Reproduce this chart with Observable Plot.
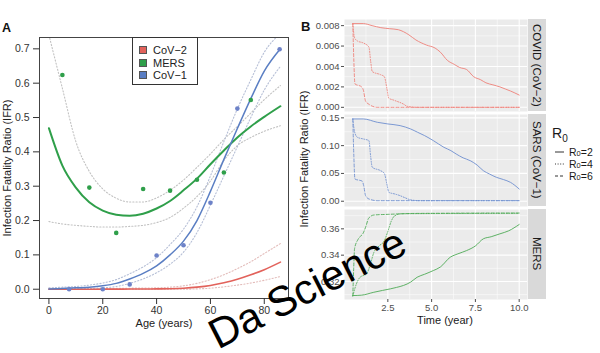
<!DOCTYPE html>
<html><head><meta charset="utf-8">
<script src="https://cdn.jsdelivr.net/npm/d3@7"></script>
<script src="https://cdn.jsdelivr.net/npm/@observablehq/plot@0.6"></script>
<style>
html,body{margin:0;padding:0;background:#fff;}
#root{position:relative;width:600px;height:353px;overflow:hidden;font-family:"Liberation Sans",Arial,Helvetica,sans-serif;}
.strip{position:absolute;background:#d9d9d9;color:#1a1a1a;font-size:11.5px;writing-mode:vertical-rl;display:flex;align-items:center;justify-content:center;white-space:nowrap;}
</style></head><body><div id="root"></div>
<script>
// ---------------- Panel A data ----------------
const seriesNames = ["CoV−2", "MERS", "CoV−1"];
const seriesColors = ["#e2625b", "#2f9f4a", "#5a7ec3"];
const ciColors = ["#e3bcba", "#c2c2c2", "#b6bfd6"];
const ageTicks = [0, 20, 40, 60, 80];
const ifrTicksA = [0, 0.1, 0.2, 0.3, 0.4, 0.5, 0.6, 0.7];
const ageGrid = [0, 5, 10, 15, 20, 25, 30, 35, 40, 45, 50, 55, 60, 65, 70, 75, 80, 86];
const fitCoV2  = [0, 0, 0, 0, 0.0002, 0.0003, 0.0005, 0.0007, 0.001, 0.0015, 0.003, 0.006, 0.011, 0.019, 0.029, 0.042, 0.057, 0.079];
const lowCoV2  = [0, 0, 0, 0, 0, 0, 0, 0, 0, 0, 0, 0.001, 0.003, 0.007, 0.012, 0.018, 0.026, 0.037];
const highCoV2 = [0.001, 0.001, 0.0015, 0.002, 0.002, 0.0025, 0.003, 0.0035, 0.004, 0.006, 0.010, 0.017, 0.028, 0.042, 0.060, 0.080, 0.104, 0.133];
const fitMERS  = [0.469, 0.36, 0.296, 0.253, 0.229, 0.217, 0.214, 0.220, 0.235, 0.257, 0.288, 0.322, 0.364, 0.404, 0.442, 0.474, 0.502, 0.533];
const lowMERS  = [0.197, 0.19, 0.186, 0.183, 0.181, 0.181, 0.183, 0.186, 0.194, 0.209, 0.236, 0.27, 0.315, 0.375, 0.418, 0.442, 0.46, 0.476];
const highMERS = [0.74, 0.585, 0.43, 0.343, 0.292, 0.265, 0.254, 0.254, 0.266, 0.288, 0.318, 0.355, 0.394, 0.436, 0.474, 0.513, 0.552, 0.593];
const fitCoV1  = [0.001, 0.002, 0.004, 0.006, 0.010, 0.017, 0.030, 0.046, 0.068, 0.10, 0.14, 0.20, 0.285, 0.378, 0.468, 0.555, 0.635, 0.70];
const lowCoV1  = [0, 0, 0.001, 0.002, 0.004, 0.008, 0.017, 0.03, 0.048, 0.073, 0.108, 0.165, 0.245, 0.33, 0.415, 0.5, 0.58, 0.649];
const highCoV1 = [0.004, 0.006, 0.008, 0.012, 0.018, 0.028, 0.045, 0.065, 0.092, 0.13, 0.175, 0.24, 0.33, 0.43, 0.525, 0.61, 0.69, 0.745];
const ageMERS = [5, 15, 25, 35, 45, 55, 65, 75];
const ifrMERS = [0.624, 0.296, 0.164, 0.292, 0.287, 0.319, 0.340, 0.551];
const ageCoV1 = [7.5, 20, 30, 40, 50, 60, 70, 85.7];
const ifrCoV1 = [0.0, 0.0, 0.014, 0.098, 0.128, 0.252, 0.526, 0.699];

// ---------------- Panel B data ----------------
const facetLabels = ["COVID (CoV−2)", "SARS (CoV−1)", "MERS"];
const facetColors = ["#ee8078", "#6e8ecf", "#4eaa56"];
const r0Labels = ["2", "4", "6"];
const timeTicks = [2.5, 5.0, 7.5, 10.0];
const timeMinor = [1.25, 3.75, 6.25, 8.75];
// COVID (CoV-2)
const tCovidR2 = [0.5, 1.1, 1.6, 2.1, 2.6, 3.1, 3.4, 3.7, 4.1, 4.7, 5.2, 5.5, 5.9, 6.3, 6.6, 7.0, 7.4, 7.8, 8.1, 8.5, 8.9, 9.2, 9.5, 10.0];
const vCovidR2 = [0.0082, 0.0082, 0.0080, 0.0078, 0.0077, 0.0076, 0.0074, 0.0071, 0.0066, 0.0061, 0.0058, 0.0054, 0.0046, 0.0042, 0.0039, 0.0037, 0.0030, 0.0027, 0.0024, 0.0022, 0.0020, 0.0018, 0.0016, 0.0012];
const tCovidR4 = [0.5, 0.6, 0.76, 1.1, 1.42, 1.52, 1.61, 2.08, 2.3, 2.45, 2.55, 2.84, 3.41, 3.6, 4.2, 10.0];
const vCovidR4 = [0.0082, 0.0068, 0.0065, 0.0063, 0.0059, 0.0045, 0.0035, 0.0032, 0.0030, 0.0018, 0.0009, 0.0007, 0.0003, 0.0001, 0.0, 0.0];
const tCovidR6 = [0.5, 0.56, 0.62, 1.0, 1.1, 1.23, 1.42, 1.9, 10.0];
const vCovidR6 = [0.0082, 0.0045, 0.0023, 0.0020, 0.0017, 0.0006, 0.0003, 0.0, 0.0];
// SARS (CoV-1)
const tSarsR2 = [0.5, 1.1, 1.9, 2.5, 3.2, 3.8, 4.2, 4.6, 5.1, 5.7, 6.1, 6.4, 6.8, 7.2, 7.6, 7.95, 8.3, 8.7, 9.1, 9.5, 10.0];
const vSarsR2 = [0.148, 0.148, 0.142, 0.139, 0.136, 0.130, 0.124, 0.118, 0.109, 0.097, 0.091, 0.085, 0.078, 0.073, 0.065, 0.055, 0.049, 0.043, 0.039, 0.034, 0.022];
const tSarsR4 = [0.5, 0.6, 0.76, 1.1, 1.42, 1.52, 1.61, 2.08, 2.3, 2.45, 2.56, 2.9, 3.2, 3.5, 3.8, 4.3, 10.0];
const vSarsR4 = [0.148, 0.125, 0.115, 0.112, 0.109, 0.08, 0.061, 0.055, 0.050, 0.03, 0.016, 0.013, 0.010, 0.006, 0.0025, 0.001, 0.001];
const tSarsR6 = [0.5, 0.56, 0.62, 1.04, 1.12, 1.23, 1.42, 1.9, 10.0];
const vSarsR6 = [0.148, 0.08, 0.040, 0.036, 0.028, 0.010, 0.004, 0.001, 0.001];
// MERS
const tMersR2 = [0.5, 1.0, 1.7, 2.2, 2.65, 3.0, 3.4, 3.8, 4.17, 4.6, 5.1, 5.5, 6.06, 6.5, 7.0, 7.5, 7.95, 8.4, 8.9, 9.4, 10.0];
const vMersR2 = [0.3093, 0.3096, 0.3118, 0.3132, 0.3144, 0.3155, 0.317, 0.3195, 0.3232, 0.3255, 0.3283, 0.331, 0.3384, 0.341, 0.3435, 0.347, 0.3524, 0.354, 0.3562, 0.3585, 0.3633];
const tMersR4 = [0.5, 0.7, 0.9, 1.3, 1.5, 1.7, 2.0, 2.3, 2.5, 2.7, 2.9, 3.3, 10.0];
const vMersR4 = [0.309, 0.318, 0.323, 0.326, 0.333, 0.342, 0.347, 0.351, 0.358, 0.366, 0.370, 0.3715, 0.3718];
const tMersR6 = [0.5, 0.55, 0.6, 0.8, 1.1, 1.25, 1.4, 1.7, 2.5, 4.0, 10.0];
const vMersR6 = [0.309, 0.33, 0.345, 0.352, 0.357, 0.362, 0.368, 0.3705, 0.371, 0.3717, 0.372];
const ticksCovid = [0, 0.002, 0.004, 0.006, 0.008];
const ticksSars = [0, 0.05, 0.10, 0.15];
const ticksMers = [0.32, 0.34, 0.36];

// ---------------- drawing ----------------
const root = document.getElementById("root");
const FONT = '"Liberation Sans", Arial, Helvetica, sans-serif';
function place(el, left, top) { el.style.position = "absolute"; el.style.left = left + "px"; el.style.top = top + "px"; root.appendChild(el); return el; }
const rowsA = ys => ageGrid.map((a, i) => ({age: a, ifr: ys[i]}));
const pts = (xs, ys) => xs.map((a, i) => ({age: a, ifr: ys[i]}));

const curves = [
  {fit: fitCoV2, lo: lowCoV2, hi: highCoV2, i: 0, w: 1.6},
  {fit: fitMERS, lo: lowMERS, hi: highMERS, i: 1, w: 2},
  {fit: fitCoV1, lo: lowCoV1, hi: highCoV1, i: 2, w: 1.5}
];

const plotA = Plot.plot({
  width: 300, height: 353,
  marginLeft: 39, marginRight: 12, marginTop: 37, marginBottom: 55,
  style: {fontFamily: FONT, fontSize: "10.5px", color: "#222", background: "none", overflow: "visible"},
  x: {domain: [-3.5, 89]},
  y: {domain: [-0.027, 0.733]},
  marks: [
    ...curves.flatMap(c => [
      Plot.line(rowsA(c.hi), {x: "age", y: "ifr", stroke: ciColors[c.i], strokeWidth: 1.1, strokeDasharray: "1.2,2", curve: "monotone-x", clip: true}),
      Plot.line(rowsA(c.lo), {x: "age", y: "ifr", stroke: ciColors[c.i], strokeWidth: 1.1, strokeDasharray: "1.2,2", curve: "monotone-x", clip: true})
    ]),
    ...curves.map(c => Plot.line(rowsA(c.fit), {x: "age", y: "ifr", stroke: seriesColors[c.i], strokeWidth: c.w, curve: "monotone-x", clip: true})),
    Plot.dot(pts(ageMERS, ifrMERS), {x: "age", y: "ifr", r: 2.3, fill: seriesColors[1], stroke: "none"}),
    Plot.dot(pts(ageCoV1, ifrCoV1), {x: "age", y: "ifr", r: 2.3, fill: "#6d82c8", stroke: "none"}),
    Plot.frame({stroke: "#444", strokeWidth: 1}),
    Plot.axisX(ageTicks, {tickSize: 6, tickPadding: 2, label: null, color: "#333"}),
    Plot.axisY(ifrTicksA, {tickSize: 6, tickPadding: 4, tickFormat: d3.format(".1f"), label: null, color: "#333"}),
    Plot.text(["Age (years)"], {text: d => d, frameAnchor: "bottom", lineAnchor: "middle", dy: 25, fontSize: 11, fill: "#222"}),
    Plot.text(["Infection Fatality Ratio (IFR)"], {text: d => d, frameAnchor: "left", lineAnchor: "middle", textAnchor: "middle", dx: -32, rotate: -90, fontSize: 11, fill: "#222"})
  ]
});
place(plotA, 0, 0);

// Legend panel A
const legA = document.createElement("div");
legA.style.cssText = `width:66px;height:48px;border:1px solid #333;background:#fff;font-family:${FONT};font-size:11px;color:#222;box-sizing:border-box;padding:6px 0 0 6px;`;
seriesNames.forEach((n, i) => {
  const row = document.createElement("div");
  row.style.cssText = "display:flex;align-items:center;height:12.5px;";
  row.innerHTML = `<span style="display:inline-block;width:8px;height:8px;background:${seriesColors[i]};border:1px solid #555;box-sizing:border-box;margin-right:6px"></span>${n}`;
  legA.appendChild(row);
});
place(legA, 132, 37);

// Panel B facets
const dashes = [null, "1,1.6", "3,2"];
function facet(series, color, yDomain, yTicks, fmt, mt, mb, height, showX) {
  const yMinor = yTicks.slice(0, -1).map((d, i) => (d + yTicks[i + 1]) / 2);
  const step = yTicks[1] - yTicks[0];
  if (yTicks[yTicks.length - 1] + step / 2 < yDomain[1]) yMinor.push(yTicks[yTicks.length - 1] + step / 2);
  if (yTicks[0] - step / 2 > yDomain[0]) yMinor.unshift(yTicks[0] - step / 2);
  return Plot.plot({
    width: 227, height, marginLeft: 44, marginRight: 0, marginTop: mt, marginBottom: mb,
    style: {fontFamily: FONT, fontSize: "9.5px", color: "#4d4d4d", background: "none", overflow: "visible"},
    x: showX ? {domain: [0.025, 10.475]} : {domain: [0.025, 10.475], axis: null},
    y: {domain: yDomain},
    marks: [
      Plot.frame({fill: "#ebebeb", stroke: "none"}),
      Plot.gridX(timeMinor, {stroke: "#fff", strokeOpacity: 1, strokeWidth: 0.5}),
      Plot.gridY(yMinor, {stroke: "#fff", strokeOpacity: 1, strokeWidth: 0.5}),
      Plot.gridX(timeTicks, {stroke: "#fff", strokeOpacity: 1, strokeWidth: 1.1}),
      Plot.gridY(yTicks, {stroke: "#fff", strokeOpacity: 1, strokeWidth: 1.1}),
      ...series.map((s, k) => Plot.line(s[0].map((t, i) => ({t, v: s[1][i]})), {x: "t", y: "v", stroke: color, strokeWidth: 0.9, strokeDasharray: dashes[k], curve: "monotone-x"})),
      Plot.axisY(yTicks, {tickSize: 3, tickPadding: 2, tickFormat: d3.format(fmt), label: null, color: "#4d4d4d"}),
      showX ? Plot.axisX(timeTicks, {tickSize: 3, tickPadding: 1.5, tickFormat: d3.format(".1f"), label: null, color: "#4d4d4d"}) : null,
      showX ? Plot.text(["Time (year)"], {text: d => d, frameAnchor: "bottom", lineAnchor: "middle", dx: 9, dy: 21, fontSize: 11, fill: "#1a1a1a"}) : null
    ]
  });
}
const p1 = facet([[tCovidR2, vCovidR2], [tCovidR4, vCovidR4], [tCovidR6, vCovidR6]], facetColors[0], [-0.00041, 0.0086], ticksCovid, ".3f", 19, 0, 111, false);
const p2 = facet([[tSarsR2, vSarsR2], [tSarsR4, vSarsR4], [tSarsR6, vSarsR6]], facetColors[1], [-0.0095, 0.156], ticksSars, ".2f", 3, 0, 95, false);
const p3 = facet([[tMersR2, vMersR2], [tMersR4, vMersR4], [tMersR6, vMersR6]], facetColors[2], [0.3063, 0.3747], ticksMers, ".2f", 3, 54, 147, true);
place(p1, 300, 0);
place(p2, 300, 111);
place(p3, 300, 206);

// strips
[[19, 92], [114, 92], [209, 90]].forEach(([top, h], i) => {
  const s = document.createElement("div");
  s.className = "strip";
  s.style.width = "18px"; s.style.height = h + "px";
  s.textContent = facetLabels[i];
  place(s, 528, top);
});

// R0 legend
const legB = document.createElement("div");
legB.style.cssText = `font-family:${FONT};color:#1a1a1a;`;
let html = `<div style="font-size:14px;height:22px;line-height:18px;margin-left:0px">R<sub style="font-size:10px">0</sub></div>`;
r0Labels.forEach((r, k) => {
  const da = dashes[k] ? `stroke-dasharray="${dashes[k]}"` : "";
  html += `<div style="display:flex;align-items:center;height:12px;font-size:10.5px;"><svg width="14" height="10" style="margin-right:3px"><line x1="3" x2="12" y1="5" y2="5" stroke="#333" stroke-width="1" ${da}/></svg>R<sub style="font-size:7.5px;position:relative;top:1px">0</sub>=${r}</div>`;
});
legB.innerHTML = html;
place(legB, 552, 124);

// overlay: titles, letters, watermark
const svgNS = "http://www.w3.org/2000/svg";
const ov = document.createElementNS(svgNS, "svg");
ov.setAttribute("width", 600); ov.setAttribute("height", 353);
ov.style.pointerEvents = "none";
ov.innerHTML = `
<text x="2" y="32" font-family='${FONT}' font-weight="bold" font-size="12.5" fill="#111">A</text>
<text x="301" y="31" font-family='${FONT}' font-weight="bold" font-size="13" fill="#111">B</text>
<text transform="translate(304,159) rotate(-90)" text-anchor="middle" dominant-baseline="central" font-family='${FONT}' font-size="11" fill="#1a1a1a">Infection Fatality Ratio (IFR)</text>
<text transform="translate(307,288) rotate(-27)" text-anchor="middle" dominant-baseline="central" font-family='${FONT}' font-size="42" fill="#000">Da Science</text>`;
place(ov, 0, 0);
</script></body></html>
